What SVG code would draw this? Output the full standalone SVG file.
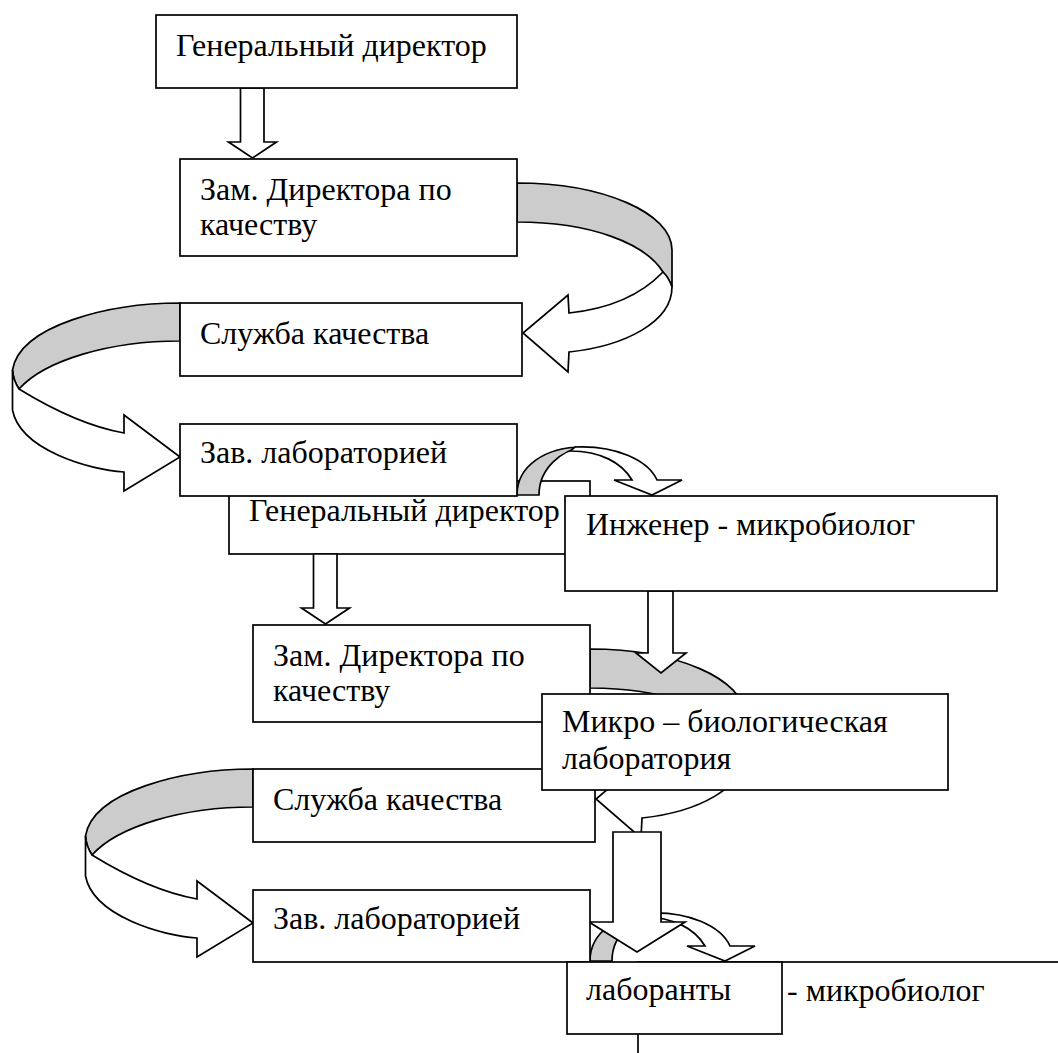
<svg xmlns="http://www.w3.org/2000/svg" width="1058" height="1053" viewBox="0 0 1058 1053">
<style>
.box{fill:#fff;stroke:#000;stroke-width:1.7}
.t{font-family:'Liberation Serif','DejaVu Serif',serif;font-size:32px;fill:#000}
.ar{fill:#fff;stroke:#000;stroke-width:1.7;stroke-linejoin:miter}
.bk{fill:#cccccc;stroke:#000;stroke-width:1.7;stroke-linejoin:miter}
</style>
<defs>
<path id="downArrow" class="ar" d="M240.5,88 H264 V142 H276.5 L252.5,158 L228.5,142 H240.5 Z"/>
<g id="curveRight">
<path class="bk" d="M517,183 C603,183 672,213 672,250 L672,287 C670,281 667,276 663,272 C645,243 590,222 517,222 Z"/>
<path class="ar" d="M663,272 C640,296 607,309 569,313 L568,295 L523,333 L568,372 L569,352 C625,346 672,322 672,287 C670,281 667,276 663,272 Z"/>
</g>
<g id="curveLeft">
<path class="bk" d="M180,303 C110,303 20,325 12.5,370 C13,377 15,383 19,389 C45,360 110,341 180,341 Z"/>
<path class="ar" d="M19,389 C45,405 85,426 124,433 L124,415 L180,457 L124,491 L124,472 C90,470 20,450 12.5,410 L12.5,370 C13,377 15,383 19,389 Z"/>
</g>
<g id="curveDown">
<path class="bk" d="M517,495 C517,466 545,447 583,447 C563,450 539,467 539,495 Z"/>
<path class="ar" d="M575,447 C615,445 648,460 657,480 L682,480 L652,495 L614,480 L632,480 C622,463 601,451 570,451 Z"/>
</g>
</defs>
<rect width="1058" height="1053" fill="#fff"/>

<g id="node-gen-dir-2">
<rect class="box" x="229" y="481" width="361" height="73"/>
<text class="t" x="249" y="521">Генеральный директор</text>
</g>

<g id="connectors">
<use href="#downArrow"/>
<use href="#curveRight"/>
<use href="#curveLeft"/>
<use href="#curveDown"/>
<g transform="translate(73,466)">
<use href="#downArrow"/>
<use href="#curveRight"/>
<use href="#curveLeft"/>
<use href="#curveDown"/>
</g>
<path class="ar" d="M648,591 H673 V653 H686 L661,673 L636,653 H648 Z"/>
<path class="ar" d="M613,832 H661 V922 H685 L637,952 L589,922 H613 Z"/>
</g>

<g id="node-gen-dir">
<rect class="box" x="156" y="15" width="361" height="73"/>
<text class="t" x="176" y="56">Генеральный директор</text>
</g>
<g id="node-zam">
<rect class="box" x="180" y="159" width="337" height="97"/>
<text class="t" x="200" y="200">Зам. Директора по<tspan x="200" dy="35">качеству</tspan></text>
</g>
<g id="node-sluzhba">
<rect class="box" x="180" y="303" width="342" height="73"/>
<text class="t" x="200" y="344">Служба качества</text>
</g>
<g id="node-zav">
<rect class="box" x="180" y="424" width="337" height="72"/>
<text class="t" x="200" y="463">Зав. лабораторией</text>
</g>
<g id="node-zam-2">
<rect class="box" x="253" y="625" width="337" height="97"/>
<text class="t" x="273" y="666">Зам. Директора по<tspan x="273" dy="35">качеству</tspan></text>
</g>
<g id="node-sluzhba-2">
<rect class="box" x="253" y="769" width="342" height="73"/>
<text class="t" x="273" y="810">Служба качества</text>
</g>
<g id="node-zav-2">
<rect class="box" x="253" y="890" width="337" height="72"/>
<text class="t" x="273" y="929">Зав. лабораторией</text>
</g>
<g id="node-inzh">
<rect class="box" x="565" y="496" width="432" height="95"/>
<text class="t" x="586" y="535">Инженер - микробиолог</text>
</g>
<g id="node-mikro">
<rect class="box" x="542" y="694" width="406" height="96"/>
<text class="t" x="562" y="732">Микро – биологическая<tspan x="562" dy="37">лаборатория</tspan></text>
</g>
<g id="node-inzh-2">
<rect class="box" x="638" y="962" width="432" height="95"/>
<text class="t" x="787" y="1001">- микробиолог</text>
</g>
<g id="node-laboranty">
<rect class="box" x="567" y="962" width="215" height="72"/>
<text class="t" x="586" y="1000">лаборанты</text>
</g>
</svg>
